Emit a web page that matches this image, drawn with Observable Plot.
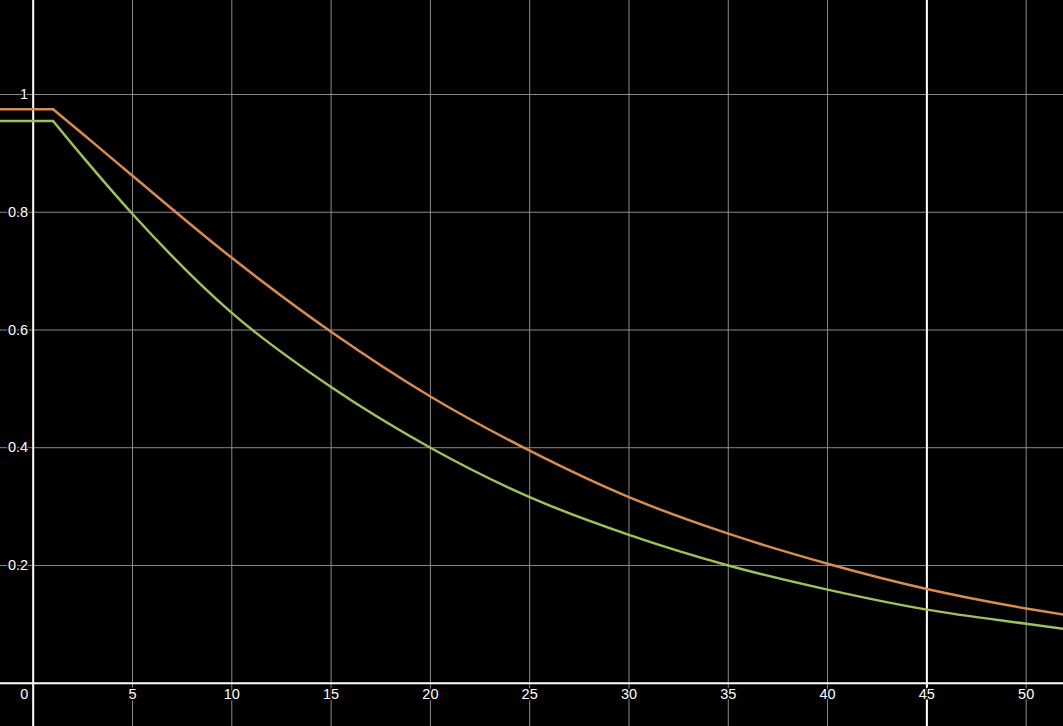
<!DOCTYPE html>
<html>
<head>
<meta charset="utf-8">
<script src="https://cdn.jsdelivr.net/npm/d3@7"></script>
<script src="https://cdn.jsdelivr.net/npm/@observablehq/plot@0.6"></script>
<style>
  html, body { margin: 0; padding: 0; background: #000; overflow: hidden; }
  #chart svg { display: block; }
</style>
</head>
<body>
<div id="chart"></div>
<script>
// Data
const orangeX = [-2, 1, 2.5, 5, 10, 15, 20, 25, 30, 35, 40, 45, 50, 52];
const orangeY = [0.975, 0.975, 0.933, 0.862, 0.7226, 0.597, 0.487, 0.395, 0.316, 0.254, 0.203, 0.160, 0.127, 0.116];
const greenX = [-2, 1, 2.5, 5, 10, 15, 20, 25, 30, 35, 40, 45, 50, 52];
const greenY = [0.955, 0.955, 0.894, 0.797, 0.629, 0.503, 0.400, 0.316, 0.252, 0.200, 0.159, 0.125, 0.101, 0.092];
const xTicks = [0, 5, 10, 15, 20, 25, 30, 35, 40, 45, 50];
const yTicks = [0.2, 0.4, 0.6, 0.8, 1];
const yTickLabels = ["0.2", "0.4", "0.6", "0.8", "1"];
const markerX = [45];

const toPts = (xs, ys) => xs.map((x, i) => ({x, y: ys[i]}));
const orange = toPts(orangeX, orangeY);
const green = toPts(greenX, greenY);
const flatO = orange.filter(d => d.x <= 1), curveO = orange.filter(d => d.x >= 1);
const flatG = green.filter(d => d.x <= 1), curveG = green.filter(d => d.x >= 1);

const ORANGE = "#d98c4f";
const GREEN = "#9fc15c";
const GRID = "#8a8a8a";
const font = "'Liberation Sans', Arial, sans-serif";
const labelStyle = {fill: "#fff", fontSize: 14.5, lineAnchor: "middle", stroke: "#000", strokeWidth: 3};

const chart = Plot.plot({
  width: 1063,
  height: 726,
  margin: 0,
  style: {background: "#000", fontFamily: font},
  x: {domain: [-1.6465, 51.88], axis: null},
  y: {domain: [-0.07355, 1.15968], axis: null},
  marks: [
    Plot.ruleX(xTicks.filter(d => d !== 0), {stroke: GRID, strokeWidth: 1}),
    Plot.ruleY(yTicks, {stroke: GRID, strokeWidth: 1}),
    Plot.ruleY([0], {stroke: "#fff", strokeWidth: 2}),
    Plot.ruleX([0], {stroke: "#fff", strokeWidth: 2}),
    Plot.ruleX(markerX, {stroke: "#fff", strokeWidth: 2}),
    Plot.line(flatO, {x: "x", y: "y", stroke: ORANGE, strokeWidth: 2.5}),
    Plot.line(curveO, {x: "x", y: "y", stroke: ORANGE, strokeWidth: 2.5, curve: "monotone-x"}),
    Plot.line(flatG, {x: "x", y: "y", stroke: GREEN, strokeWidth: 2.5}),
    Plot.line(curveG, {x: "x", y: "y", stroke: GREEN, strokeWidth: 2.5, curve: "monotone-x"}),
    Plot.text(xTicks.filter(d => d !== 0), {
      x: d => d, y: 0, text: d => String(d), dy: 11, textAnchor: "middle", ...labelStyle
    }),
    Plot.text(xTicks.filter(d => d === 0), {
      x: d => d, y: 0, text: d => String(d), dx: -9, dy: 11, textAnchor: "middle", ...labelStyle
    }),
    Plot.text(yTicks, {
      x: 0, y: d => d, text: (d, i) => yTickLabels[i], dx: -5, textAnchor: "end", ...labelStyle
    })
  ]
});
document.getElementById("chart").appendChild(chart);
</script>
</body>
</html>
